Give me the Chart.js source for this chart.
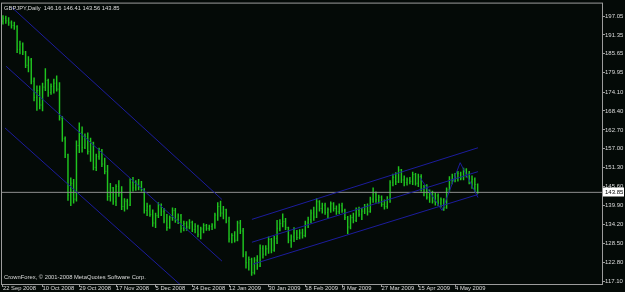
<!DOCTYPE html>
<html>
<head>
<meta charset="utf-8">
<script src="https://cdn.jsdelivr.net/npm/chart.js@4.4.0/dist/chart.umd.min.js"></script>
<style>
  html, body { margin: 0; padding: 0; background: #040a07; }
  #wrap { width: 625px; height: 292px; }
</style>
</head>
<body>
<div id="wrap"><canvas id="chart" width="625" height="292"></canvas></div>
<script>
const symbolTitle = 'GBPJPY,Daily  146.16 146.41 143.56 143.85';
const copyright = 'CrownForex, \u00a9 2001-2008 MetaQuotes Software Corp.';

// daily bars, 22 Sep 2008 .. 14 May 2009 (one entry per trading day)
const opens = [
  195.5,196.4,195.6,195.0,194.2,193.8,187.0,188.6,186.2,182.2,
  183.8,177.4,172.5,174.6,170.2,175.6,177.6,174.0,175.8,176.8,
  175.0,166.2,160.0,155.2,143.0,146.6,141.8,158.0,162.0,157.4,
  160.6,156.2,158.8,151.4,154.6,156.4,152.4,150.2,142.6,145.2,
  141.0,145.6,143.6,139.6,141.2,140.0,146.8,145.2,146.6,145.4,
  144.6,138.4,139.6,137.2,134.6,136.8,139.8,138.0,135.2,133.2,
  136.2,138.4,135.6,136.8,133.0,134.4,133.4,134.8,132.6,133.6,
  131.2,132.8,133.8,133.0,133.6,134.0,137.0,139.6,137.6,138.6,
  135.2,129.8,130.8,129.4,134.6,132.2,125.0,122.6,123.6,119.6,
  123.4,121.6,127.0,125.2,126.8,129.6,126.4,130.0,133.0,134.4,
  135.0,133.2,129.4,130.4,131.6,130.2,131.6,130.8,134.6,135.6,
  137.6,136.4,141.0,139.0,140.0,137.8,138.6,140.4,139.0,138.0,
  139.8,138.4,136.2,133.4,136.2,135.4,138.4,137.2,138.2,139.6,
  138.0,141.8,143.6,141.6,142.4,140.2,139.6,141.8,146.8,148.4,
  147.0,150.6,147.6,146.8,147.6,147.2,149.2,146.6,148.6,144.8,
  145.4,142.4,143.4,141.2,142.8,140.6,141.6,139.2,144.6,147.6,
  148.8,148.0,149.6,148.2,150.6,149.4,147.0,147.8,146.16
];
const highs = [
  197.2,197.0,196.6,195.6,195.2,194.2,189.5,189.0,186.4,184.8,
  184.3,178.4,176.0,176.0,176.8,181.2,178.0,176.6,178.0,179.0,
  177.0,166.8,160.6,155.4,148.2,147.8,159.4,164.8,163.6,161.5,
  161.8,160.2,159.0,155.4,157.2,156.8,154.2,152.0,146.6,145.4,
  146.2,147.4,145.6,142.0,141.8,148.0,148.4,147.4,147.8,147.2,
  145.0,140.6,140.0,138.6,137.6,140.8,140.4,139.0,137.2,136.8,
  139.2,139.0,137.4,137.2,135.2,135.0,135.6,135.2,134.4,134.0,
  133.4,134.4,134.2,134.0,134.4,137.6,140.8,141.2,139.6,138.8,
  136.4,131.4,132.0,135.2,135.4,133.0,126.0,124.4,124.0,124.2,
  124.8,128.0,127.8,127.8,130.4,130.0,130.6,135.4,135.6,137.4,
  136.0,133.4,131.0,133.2,132.4,132.6,132.8,135.2,136.4,138.6,
  139.4,142.0,141.4,140.6,140.6,139.2,141.0,140.8,139.8,140.4,
  140.6,138.8,136.6,137.0,137.6,139.2,139.4,139.0,140.2,140.4,
  142.4,145.2,144.0,143.0,142.8,141.6,142.6,147.4,149.4,149.8,
  151.6,150.8,148.8,148.2,148.4,150.0,149.6,149.4,149.2,146.0,
  146.2,144.6,144.2,143.6,143.4,142.2,142.0,145.2,148.6,149.4,
  149.6,150.2,150.0,151.2,151.0,150.2,148.8,148.2,146.41
];
const lows = [
  194.6,194.8,194.2,193.4,193.0,186.0,185.6,185.4,181.5,180.2,
  176.6,171.4,168.6,169.0,168.4,174.5,172.8,173.4,173.8,174.4,
  165.6,159.2,154.3,141.4,139.8,140.6,141.2,155.8,156.0,157.0,
  155.4,153.2,150.6,150.4,153.8,151.6,149.4,141.4,141.2,140.2,
  139.8,142.6,138.6,138.2,138.8,139.8,144.2,144.4,144.6,144.2,
  137.6,136.8,136.6,133.6,133.2,136.2,136.8,134.6,132.4,133.0,
  135.4,134.8,134.4,131.8,132.2,132.4,132.8,132.0,131.6,130.4,
  129.8,131.6,132.4,132.4,132.6,133.0,135.4,136.6,135.8,134.6,
  128.8,128.6,128.8,129.2,131.4,124.4,121.0,120.4,118.8,119.2,
  120.6,121.4,124.0,124.8,125.4,125.6,126.0,128.4,132.2,133.4,
  132.6,128.6,127.2,129.0,129.6,129.8,130.0,130.4,133.2,134.6,
  135.4,136.2,138.2,137.6,137.2,136.2,137.8,138.2,137.2,137.4,
  137.8,135.6,131.4,132.8,134.6,135.0,136.6,135.6,137.4,137.0,
  137.8,140.8,140.8,140.6,139.6,138.8,139.0,140.8,145.8,146.2,
  146.8,146.8,145.8,146.0,146.4,146.2,146.0,145.6,144.2,142.8,
  141.8,140.8,140.6,140.0,139.8,139.4,138.4,139.0,144.0,146.4,
  147.0,147.2,147.6,147.6,148.4,146.4,145.0,144.0,143.56
];
const closes = [
  196.4,195.6,195.0,194.2,193.8,187.0,188.6,186.2,182.2,183.8,
  177.4,172.5,174.6,170.2,175.6,177.6,174.0,175.8,176.8,175.0,
  166.4,160.0,155.2,143.0,146.6,141.8,158.0,162.0,157.4,160.6,
  156.2,158.8,151.4,154.6,156.4,152.4,150.2,142.6,145.2,141.0,
  145.6,143.6,139.6,141.2,140.0,146.8,145.2,146.6,145.4,144.6,
  138.4,139.6,137.2,134.6,136.8,139.8,138.0,135.2,133.2,136.2,
  138.4,135.6,136.8,133.0,134.4,133.4,134.8,132.6,133.6,131.2,
  132.8,133.8,133.0,133.6,134.0,137.0,139.6,137.6,138.6,135.2,
  129.8,130.8,129.4,134.6,132.2,125.0,122.6,123.6,119.6,123.4,
  121.6,127.0,125.2,126.8,129.6,126.4,130.0,133.0,134.4,135.0,
  133.2,129.4,130.4,131.6,130.2,131.6,130.8,134.6,135.6,137.6,
  136.4,141.0,139.0,140.0,137.8,138.6,140.4,139.0,138.0,139.8,
  138.4,136.2,133.4,136.2,135.4,138.4,137.2,138.2,139.6,138.0,
  141.8,143.6,141.6,142.4,140.2,139.6,141.8,146.8,148.4,147.0,
  150.6,147.6,146.8,147.6,147.2,149.2,146.6,148.6,144.8,145.4,
  142.4,143.4,141.2,142.8,140.6,141.6,139.2,144.6,147.6,148.8,
  148.0,149.6,148.2,150.6,149.4,147.0,147.8,146.2,143.85
];

const dateTickBars = [0, 14, 27, 40, 54, 67, 80, 94, 107, 120, 134, 147, 160];
const dateTickLabels = ['22 Sep 2008', '10 Oct 2008', '29 Oct 2008', '17 Nov 2008', '5 Dec 2008',
  '24 Dec 2008', '12 Jan 2009', '30 Jan 2009', '18 Feb 2009', '9 Mar 2009', '27 Mar 2009',
  '15 Apr 2009', '4 May 2009'];
const priceTicks = [197.05, 191.35, 185.65, 179.95, 174.10, 168.40, 162.70, 157.00,
  151.30, 145.60, 139.90, 134.20, 128.50, 122.80, 117.10];
const lastPrice = 143.85;

// hand drawn objects, [bar, price]
const downUpper = [[3.2, 199.6], [77.5, 141.7]];
const downMiddle = [[1.1, 181.9], [77.5, 123.1]];
const downLower = [[0.7, 163.3], [66, 113.5]];
const upUpper = [[88.1, 135.7], [168.1, 157.3]];
const upMiddle = [[88.1, 128.8], [168.1, 150.1]];
const upLower = [[88.5, 122.2], [168.1, 143.2]];
const zigzag = [[147.6, 148.3], [155.4, 138.4], [161.8, 152.8], [168.1, 142.3]];

const BG = '#040a07';
const BAR_GREEN = '#1fc41f';
const LINE_BLUE = '#1c1c9c';
const FRAME = '#9c9c9c';
const TEXT = '#dcdcdc';
const FONT_FAMILY = "'Liberation Sans', Arial, sans-serif";

function lineSet(pts, color) {
  return {
    type: 'line',
    data: pts.map(function(p) { return { x: p[0], y: p[1] }; }),
    borderColor: color,
    borderWidth: 1,
    pointRadius: 0,
    fill: false,
    tension: 0,
    order: 1
  };
}

const mtDecor = {
  id: 'mtDecor',
  beforeDraw: function(chart) {
    const c = chart.ctx;
    c.save();
    c.fillStyle = BG;
    c.fillRect(0, 0, chart.width, chart.height);
    c.restore();
  },
  afterDatasetDraw: function(chart, args) {
    if (args.index !== 0) return;
    const c = chart.ctx;
    const ys = chart.scales.y;
    const meta = chart.getDatasetMeta(0);
    const ca = chart.chartArea;
    c.save();
    c.beginPath();
    c.rect(ca.left, ca.top, ca.right - ca.left, ca.bottom - ca.top);
    c.clip();
    c.strokeStyle = BAR_GREEN;
    c.lineWidth = 0.7;
    c.beginPath();
    meta.data.forEach(function(el, i) {
      const yo = ys.getPixelForValue(opens[i]);
      const yc = ys.getPixelForValue(closes[i]);
      c.moveTo(el.x - 0.9, yo); c.lineTo(el.x, yo);
      c.moveTo(el.x, yc); c.lineTo(el.x + 0.9, yc);
    });
    c.stroke();
    c.restore();
  },
  afterDraw: function(chart) {
    const c = chart.ctx;
    const ca = chart.chartArea;
    c.save();
    c.strokeStyle = FRAME;
    c.lineWidth = 1;
    c.strokeRect(ca.left - 0.5, ca.top - 0.5, ca.right - ca.left + 1, ca.bottom - ca.top + 1);

    c.font = '5.8px ' + FONT_FAMILY;
    c.fillStyle = TEXT;
    c.textBaseline = 'middle';
    c.textAlign = 'left';
    c.fillText(symbolTitle, ca.left + 2, ca.top + 5);
    c.fillText(copyright, ca.left + 2, ca.bottom - 7);

    const yp = chart.scales.y.getPixelForValue(lastPrice);
    c.fillStyle = '#ffffff';
    c.fillRect(ca.right + 1, Math.round(yp) - 4.5, 21, 9);
    c.fillStyle = '#000000';
    c.font = '6px ' + FONT_FAMILY;
    c.fillText(lastPrice.toFixed(2), ca.right + 3, Math.round(yp));
    c.restore();
  }
};

const barData = highs.map(function(h, i) { return { x: i, y: [lows[i], h] }; });

new Chart(document.getElementById('chart').getContext('2d'), {
  type: 'bar',
  data: {
    datasets: [
      {
        type: 'bar',
        data: barData,
        backgroundColor: BAR_GREEN,
        barThickness: 0.8,
        grouped: false,
        order: 3
      },
      {
        type: 'line',
        data: [{ x: -0.35, y: lastPrice }, { x: 212, y: lastPrice }],
        borderColor: '#8e8e8e',
        borderWidth: 1,
        pointRadius: 0,
        order: 2
      },
      lineSet(downUpper, LINE_BLUE),
      lineSet(downMiddle, LINE_BLUE),
      lineSet(downLower, LINE_BLUE),
      lineSet(upUpper, LINE_BLUE),
      lineSet(upMiddle, LINE_BLUE),
      lineSet(upLower, LINE_BLUE),
      lineSet(zigzag, LINE_BLUE)
    ]
  },
  options: {
    responsive: false,
    animation: false,
    events: [],
    layout: { padding: { top: 2, left: 2, right: 0, bottom: 0 } },
    plugins: {
      legend: { display: false },
      tooltip: { enabled: false }
    },
    scales: {
      x: {
        type: 'linear',
        position: 'bottom',
        offset: false,
        min: -0.35,
        max: 212,
        afterFit: function(s) { s.height = 8; },
        afterBuildTicks: function(s) {
          s.ticks = dateTickBars.map(function(v) { return { value: v }; });
        },
        ticks: {
          autoSkip: false,
          maxRotation: 0,
          minRotation: 0,
          align: 'start',
          padding: -2,
          color: TEXT,
          font: { family: FONT_FAMILY, size: 5.8 },
          callback: function(v) {
            const k = dateTickBars.indexOf(v);
            return k >= 0 ? dateTickLabels[k] : '';
          }
        },
        grid: { display: true, drawOnChartArea: false, offset: false, tickLength: 3, color: FRAME },
        border: { display: false }
      },
      y: {
        position: 'right',
        min: 116.2,
        max: 200.8,
        afterFit: function(s) { s.width = 23; },
        afterBuildTicks: function(s) {
          s.ticks = priceTicks.map(function(v) { return { value: v }; });
        },
        ticks: {
          padding: 0,
          color: TEXT,
          font: { family: FONT_FAMILY, size: 6 },
          callback: function(v) { return Number(v).toFixed(2); }
        },
        grid: { display: true, drawOnChartArea: false, tickLength: 3, color: FRAME },
        border: { display: false }
      }
    }
  },
  plugins: [mtDecor]
});
</script>
</body>
</html>
